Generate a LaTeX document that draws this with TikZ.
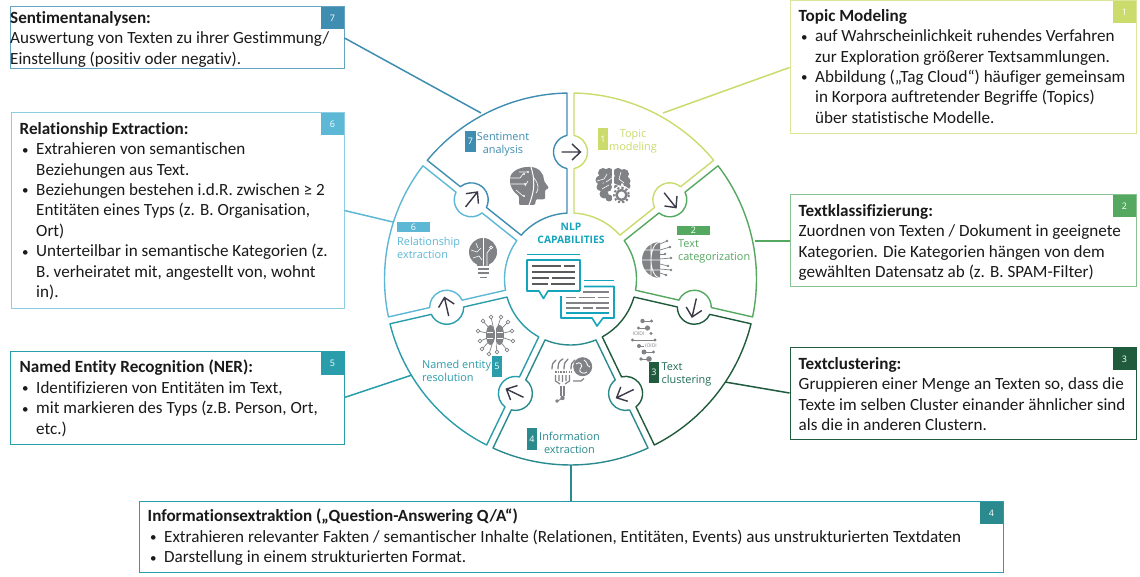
\documentclass[tikz,border=0pt]{standalone}
\usepackage{fontspec}
\setmainfont[Ligatures=NoCommon]{Carlito}
\newfontfamily\wf{Open Sans}
\definecolor{c1}{HTML}{CBDB6C}
\definecolor{c2}{HTML}{55A860}
\definecolor{c3}{HTML}{1F5B3C}
\definecolor{c4}{HTML}{2B8A8E}
\definecolor{c5}{HTML}{2A9DAA}
\definecolor{c6}{HTML}{5DB8D6}
\definecolor{c7}{HTML}{3F8DB0}
\definecolor{ic}{HTML}{808285}
\definecolor{ar}{HTML}{3A3A48}
\definecolor{tx}{HTML}{1A1A1A}
\definecolor{cc}{HTML}{14A5BC}
\newcommand\bul{\makebox[16.5pt][l]{\hspace{2.5pt}\raisebox{0.6pt}{\fontsize{13}{13}\selectfont •}}}
\newcommand\ind{\hspace*{16.5pt}}
\tikzset{
 infobox/.style={draw=#1,line width=1pt,rectangle,inner sep=0pt,fill=white},
 infotext/.style={anchor=north west,inner sep=0pt,align=left,text=tx,font=\fontsize{17.1}{20.45}\selectfont},
 badge/.style={fill=#1,text=white,inner sep=0pt,font=\wf\fontsize{9}{9}\selectfont},
 wlabel/.style={text=#1,inner sep=0pt,font=\wf\fontsize{10.9}{13}\selectfont,align=left},
 link/.style={draw=#1,line width=1.5pt},
 iconline/.style={draw=ic,line width=0.9pt},
 whiteline/.style={draw=white,line width=0.8pt},
}
% segment: colour, index
\newcommand\seg[2]{%
\begin{scope}[shift={(570.5,279)},x=1pt,y=1pt,rotate={-(#2)*51.4286}]
\draw[#1,line width=1.4pt,line join=round]
 (3.5,65.9) -- (3.5,110.4) arc[start angle=-78.1,end angle=78.1,radius=17]
 -- (3.5,185.97) arc[start angle=88.92,end angle=39.65,radius=186]
 -- (39.97:143.64) arc[start angle=50.47,end angle=206.67,radius=17]
 -- (41.61:66) arc[start angle=41.61,end angle=86.96,radius=66] -- cycle;
\draw[ar,line width=1.4pt] (-9,127) -- (10,127) (1.5,135) -- (10,127) -- (1.5,119);
\end{scope}}
\newcommand\gear[3]{%
\fill[white] (#1,#2) circle (#3+1.5);
\draw[ic,line width=2.4pt] (#1,#2) circle (#3*0.62);
\draw[ic,line width=2pt,dash pattern=on 2.2pt off 2.1pt] (#1,#2) circle (#3*0.92);
}
\begin{document}
\begin{tikzpicture}[x=1pt,y=-1pt]
\useasboundingbox (0,0) rectangle (1140,577);
\fill[white] (0,0) rectangle (1140,577);
% wheel
\seg{c1}{0}\seg{c2}{1}\seg{c3}{2}\seg{c4}{3}\seg{c5}{4}\seg{c6}{5}\seg{c7}{6}
% boxes
\node[infobox=c7!80!white,minimum width=334pt,minimum height=62pt] (b7) at (177,38) {};
\node[infobox=c6!70!white,minimum width=333pt,minimum height=195pt] (b6) at (177.5,210.5) {};
\node[infobox=c5,minimum width=334pt,minimum height=93pt] (b5) at (177,397.5) {};
\node[infobox=c1!70!white,minimum width=346pt,minimum height=133pt] (b1) at (963,67.5) {};
\node[infobox=c2!70!white,minimum width=346pt,minimum height=92pt] (b2) at (963,241) {};
\node[infobox=c3,minimum width=346pt,minimum height=92pt] (b3) at (963,393) {};
\node[infobox=c5,minimum width=864pt,minimum height=71pt] (b4) at (571,536.5) {};
% connectors
\coordinate (w7) at (481,113);
\coordinate (w6) at (393,222);
\coordinate (w5) at (412,375);
\coordinate (w1) at (663,113);
\coordinate (w2) at (755,241);
\coordinate (w3) at (725,382);
\coordinate (w4) at (571,465);
\draw[link=c7] (b7.east) -- (w7);
\draw[link=c6] (b6.east) -- (w6);
\draw[link=c5] (b5.east) -- (w5);
\draw[link=c1] (b1.west) -- (w1);
\draw[link=c2] (b2.west) -- (w2);
\draw[link=c3] (b3.west) -- (w3);
\draw[link=c4] (b4.north) -- (w4);
% box badges
\node[badge=c7,minimum width=23pt,minimum height=22pt] (n7) at (332.5,18) {7};
\node[badge=c6,minimum width=23pt,minimum height=22pt] (n6) at (332.5,124) {6};
\node[badge=c5,minimum width=23pt,minimum height=23pt] (n5) at (332.5,363.5) {5};
\node[badge=c1,minimum width=23pt,minimum height=22pt] (n1) at (1124.5,12) {1};
\node[badge=c2,minimum width=23pt,minimum height=22pt] (n2) at (1124.5,206) {2};
\node[badge=c3,minimum width=23pt,minimum height=22pt] (n3) at (1124.5,359) {3};
\node[badge=c4,minimum width=23pt,minimum height=22pt] (n4) at (991.5,513) {4};
% box texts
\node[infotext] (t7) at (10,11) {\textbf{Sentimentanalysen:}\\Auswertung von Texten zu ihrer Gestimmung/\\Einstellung (positiv oder negativ).};
\node[infotext] (t6) at (19.5,122) {\textbf{Relationship Extraction:}\\\bul Extrahieren von semantischen\\\ind Beziehungen aus Text.\\\bul Beziehungen bestehen i.d.R. zwischen ≥ 2\\\ind Entitäten eines Typs (z. B. Organisation,\\\ind Ort)\\\bul Unterteilbar in semantische Kategorien (z.\\\ind B. verheiratet mit, angestellt von, wohnt\\\ind in).};
\node[infotext] (t5) at (19.5,360) {\textbf{Named Entity Recognition (NER):}\\\bul Identifizieren von Entitäten im Text,\\\bul mit markieren des Typs (z.B. Person, Ort,\\\ind etc.)};
\node[infotext] (t1) at (798.5,9) {\textbf{Topic Modeling}\\\bul auf Wahrscheinlichkeit ruhendes Verfahren\\\ind zur Exploration größerer Textsammlungen.\\\bul Abbildung („Tag Cloud“) häufiger gemeinsam\\\ind in Korpora auftretender Begriffe (Topics)\\\ind über statistische Modelle.};
\node[infotext] (t2) at (798.5,204) {\textbf{Textklassifizierung:}\\Zuordnen von Texten / Dokument in geeignete\\Kategorien. Die Kategorien hängen von dem\\gewählten Datensatz ab (z. B. SPAM-Filter)};
\node[infotext] (t3) at (798.5,357) {\textbf{Textclustering:}\\Gruppieren einer Menge an Texten so, dass die\\Texte im selben Cluster einander ähnlicher sind\\als die in anderen Clustern.};
\node[infotext] (t4) at (147.5,509) {\textbf{Informationsextraktion („Question-Answering Q/A“)}\\\bul Extrahieren relevanter Fakten / semantischer Inhalte (Relationen, Entitäten, Events) aus unstrukturierten Textdaten\\\bul Darstellung in einem strukturierten Format.};
% wheel badges and labels
\node[badge=c7,minimum width=11pt,minimum height=21pt] (w7n) at (470.5,141.5) {7};
\node[wlabel=c7,align=center] (w7l) at (503,144.5) {Sentiment\\analysis};
\node[badge=c6,minimum width=33pt,minimum height=10pt] (w6n) at (413.5,227) {6};
\node[wlabel=c6,anchor=west] (w6l) at (397,247.5) {Relationship\\extraction};
\node[badge=c5,minimum width=10pt,minimum height=21pt] (w5n) at (497,366.5) {5};
\node[wlabel=c5,anchor=west] (w5l) at (422,370.5) {Named entity\\resolution};
\node[badge=c4,minimum width=10pt,minimum height=22pt] (w4n) at (532,439) {4};
\node[wlabel=c4,align=center] (w4l) at (569.5,442.5) {Information\\extraction};
\node[badge=c3,minimum width=10pt,minimum height=21pt] (w3n) at (654,372.5) {3};
\node[wlabel=c3!75!c5,anchor=west] (w3l) at (661.5,374.5) {Text\\clustering};
\node[badge=c2,minimum width=33pt,minimum height=9pt] (w2n) at (693.5,230.5) {2};
\node[wlabel=c2,anchor=west] (w2l) at (678,251.5) {Text\\categorization};
\node[badge=c1,minimum width=10pt,minimum height=22pt] (w1n) at (603,139) {1};
\node[wlabel=c1,align=center] (w1l) at (633,141.5) {Topic\\modeling};
% centre
\node[text=cc,inner sep=0pt,align=center,font=\wf\bfseries\fontsize{10.3}{13}\selectfont] (nlp) at (571,233.5) {NLP\\CAPABILITIES};
% bubble 1
\draw[cc,line width=1.6pt] (527,254.5) -- (580,254.5);
\draw[cc,line width=1.6pt,line join=round] (580,291) -- (580,260) -- (527,260) -- (527,291) -- (539,291) -- (543.5,298.5) -- (548,291) -- (580,291);
\draw[ic!70!black,line width=1.5pt]
 (532,266) -- (561,266) (563.5,266) -- (575,266)
 (532,272) -- (575,272)
 (532,278) -- (549,278) (551.5,278) -- (575,278)
 (532,284) -- (548,284) (550.5,284) -- (575,284);
% bubble 2
\draw[cc,line width=1.6pt] (584,280.5) -- (614,280.5);
\draw[cc,line width=1.6pt,line join=round] (584,286.5) -- (614,286.5) -- (614,318) -- (603,318) -- (597,326) -- (592,318) -- (561,318) -- (561,296);
\draw[cc,line width=1.6pt] (566,313) -- (609,313);
\draw[ic,line width=1.5pt]
 (583,292) -- (609,292)
 (566,297.5) -- (576,297.5) (578.5,297.5) -- (595,297.5) (597.5,297.5) -- (609,297.5)
 (566,303) -- (609,303)
 (566,308) -- (580,308) (582.5,308) -- (593,308) (595.5,308) -- (609,308);
% head icon
\fill[ic,rounded corners=1.2pt] (519,205) -- (519,196) .. controls (513,192) and (510,186) .. (510,180) .. controls (510,172) and (519,167) .. (529,167) .. controls (539,167) and (544,174) .. (544,181) -- (549,188) -- (545,190) -- (545,197) .. controls (545,199) and (542,200) .. (536,199) -- (535,205) -- cycle;
\draw[whiteline,line width=1pt] (531,167) .. controls (535,180) and (535,190) .. (529,205);
\draw[whiteline,line width=0.6pt] (510,178) -- (520,178) -- (523,174) (511,184) -- (524,184) (516,190) -- (523,196) (519,172) -- (527,172) (528,181) -- (525,186) (534,178) .. controls (539,184) and (539,190) .. (536,193);
\fill[white] (524,174) circle (1.1) (525,184) circle (1.1) (524,196) circle (1.1) (528,172) circle (1.1);
% topic brain icon
\fill[ic] (603,173) circle (5) (609,172.5) circle (4.6) (600,180) circle (4.5) (608,180) circle (5) (600.5,187) circle (4) (607,187) circle (5) (604,194) circle (4.5) (609,198) circle (3.5);
\fill[ic] (618,172.5) circle (4.6) (624,174) circle (5) (626,181) circle (4.5) (618,180) circle (5) (627,186) circle (3.5) (618,187) circle (4);
\draw[whiteline,line width=0.6pt] (597,181) -- (604,179) -- (607,174) (602,189) -- (609,185) (612,178) -- (606,182) (621,172) -- (619,179) -- (624,183) (614,184) -- (620,186);
\draw[white,line width=1.4pt] (612.8,167) -- (612.8,203);
\gear{621.5}{195}{8}
% globe icon
\begin{scope}
\clip (638,240) rectangle (660,282);
\fill[ic] (660,260) circle (18);
\draw[whiteline] (660,260) ellipse (9 and 18) (642,250) -- (662,250) (642,260) -- (662,260) (642,270) -- (662,270) (651,242) -- (651,278);
\end{scope}
\foreach \ya/\yb/\xx in {244/241/667,250/247/670,254/254/665,259/258/671,264/266/668,269/270/671,273/275/666}
 \draw[iconline,line width=0.7pt] (660,\ya) -- (\xx,\yb);
\fill[ic] (667,241) circle (1.4) (670,247) circle (1.4) (665,254) circle (1.4) (671,258) circle (1.4) (668,266) circle (1.4) (671,270) circle (1.4) (666,275) circle (1.4);
% clustering icon
\draw[iconline] (642.5,321) -- (653,321) (638,328) -- (650,328) (632.5,340) -- (655,340) (639,346) -- (644,346) (643,352) -- (653,352) (641,359) -- (649,359);
\fill[ic] (642.5,321) circle (2.2) (651.5,321) circle (1.7) (638.5,328) circle (1.7) (647.5,328) circle (2.6) (651,333.5) circle (1.7) (632.5,340) circle (1.7) (655,340) circle (1.7) (639,346) circle (2) (644,352) circle (2.5) (653.5,352) circle (1.7) (641,359) circle (1.9) (649,359) circle (2.8);
\node[text=ic,inner sep=0pt,font=\wf\fontsize{5}{5}\selectfont] (io1) at (638.5,333.5) {IOIDI};
\node[text=ic,inner sep=0pt,font=\wf\fontsize{5}{5}\selectfont] (io2) at (651,346) {IOIDI};
% hand icon
\draw[ic,line width=1.3pt,line cap=round] (552,369) .. controls (552,364) and (553,362) .. (556,360) (558,369) .. controls (558,363) and (559,361) .. (563,359) (564,369) .. controls (564,364) and (565,361) .. (568,359) (571,369) .. controls (571,364) and (572,362) .. (575,360);
\draw[ic,line width=1.2pt,dash pattern=on 1.5pt off 1.2pt] (555,372) -- (572,372);
\draw[ic,line width=1.2pt] (555.5,375) -- (555.5,381) -- (560,384) (559,375) -- (559,381) (562.5,375) -- (562.5,382) (566,375) -- (566,381) (569.5,375) -- (569.5,381) -- (565,384);
\draw[ic,line width=1.2pt] (561,386) -- (561,396) (564,386) -- (564,396);
\fill[ic] (562.5,398) circle (2.2) (557,401) circle (1.8);
\draw[iconline] (561,399) -- (556,402);
\draw[ic,line width=1.2pt] (573,381) -- (581,381) -- (584,378.5);
\fill[ic] (582.7,366.7) circle (9.5);
\draw[whiteline] (576,364) .. controls (580,360) and (584,366) .. (580,369) .. controls (578,372) and (584,375) .. (587,372) (584,360) .. controls (588,362) and (586,366) .. (590,367);
% NER brain icon
\foreach \dx/\dy in {-17/-4,-15/6,-12/-14,-4/-18,6/-18,13/-13,17/-4,18/6,12/15,2/17,-6/19,-13/14}
{\draw[iconline,line width=0.7pt] (495,335) -- (495+\dx,335+\dy);}
\fill[ic] (490.5,335) ellipse (4.5 and 10) (499.5,335) ellipse (4.5 and 10);
\draw[whiteline,line width=0.5pt] (495,325) -- (495,345) (487,332) -- (493,332) (487,338) -- (493,338) (497,332) -- (503,332) (497,338) -- (503,338);
\foreach \dx/\dy in {-17/-4,-15/6,-12/-14,-4/-18,6/-18,13/-13,17/-4,18/6,12/15,2/17,-6/19,-13/14}
{\filldraw[fill=white,draw=ic,line width=0.7pt] (495+\dx,335+\dy) circle (1.8);}
% bulb icon
\fill[ic] (483,252) circle (14);
\fill[ic] (477,260) rectangle (489,266);
\draw[whiteline,line width=0.6pt] (471,250) -- (477,252) -- (481,248) (473,258) -- (479,256) -- (482,260) (476,243) -- (478,248);
\draw[white,line width=1.2pt] (483.2,238) -- (483.2,266);
\draw[white,line width=0.7pt] (487,266) -- (487,253) -- (490,249);
\draw[white,line width=0.7pt] (491,247.5) circle (1.5);
\draw[ic,line width=1.7pt] (478,269) -- (489,269) (478,273) -- (489,273) (480,277.5) -- (487,277.5);
\end{tikzpicture}
\end{document}
